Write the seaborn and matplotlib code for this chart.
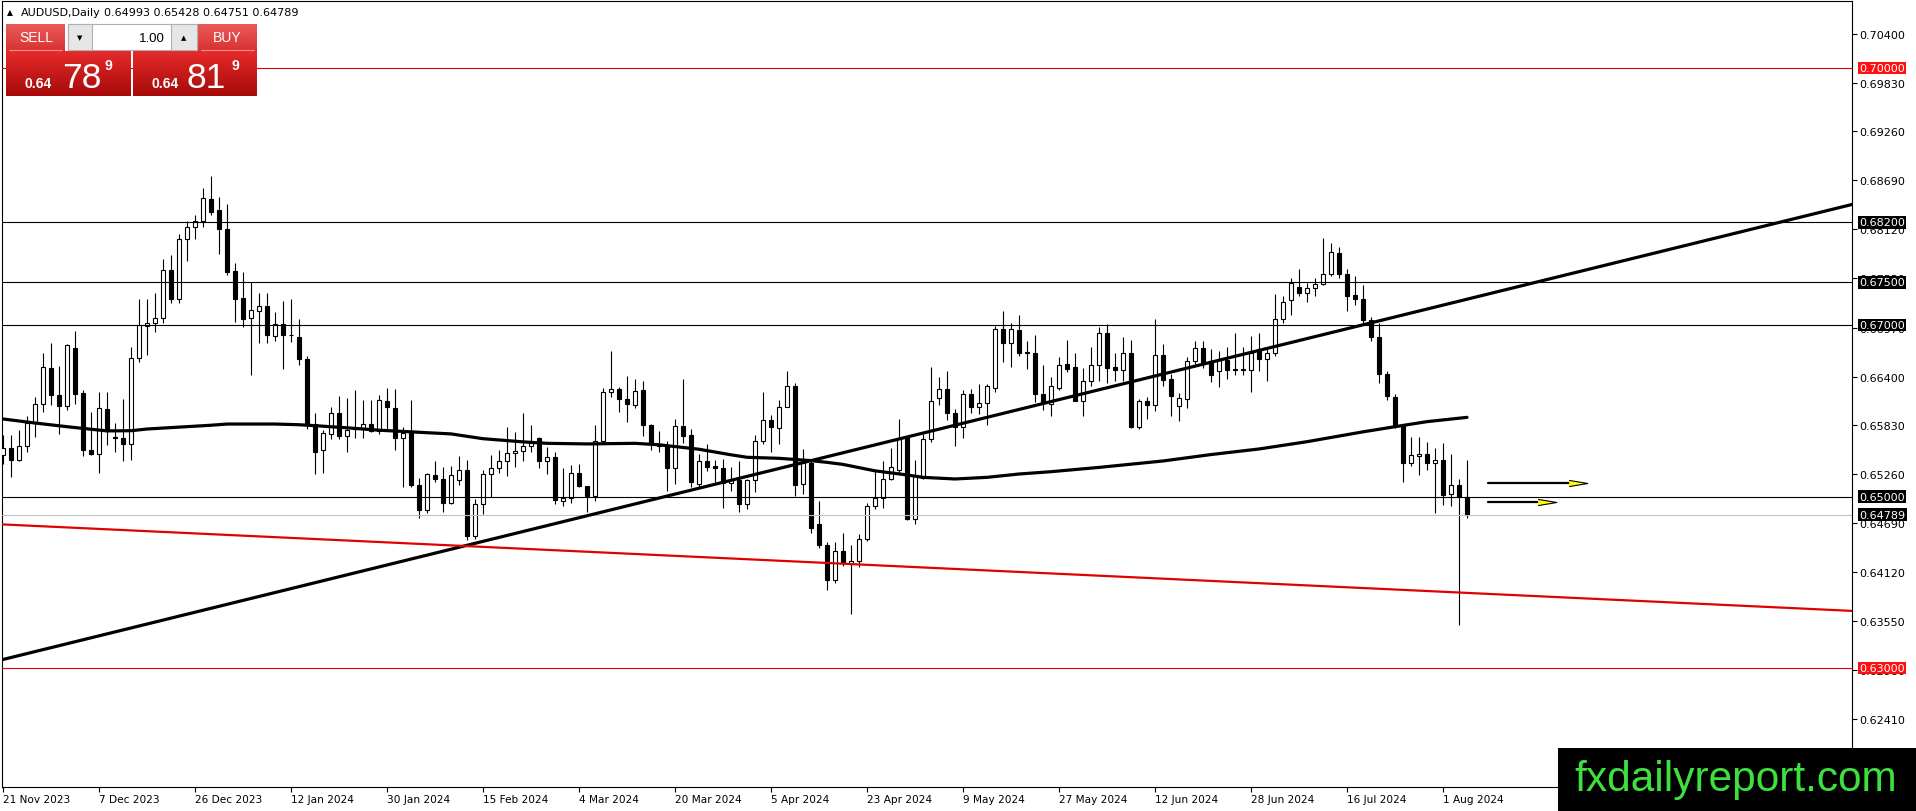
import numpy as np
import pandas as pd
import seaborn as sns
import matplotlib.pyplot as plt
from matplotlib.patches import Rectangle
from matplotlib.colors import LinearSegmentedColormap

# ---- data ----
opens = [
    0.6548, 0.6557, 0.6543, 0.6559, 0.6586, 0.6608, 0.6650, 0.6618, 0.6606, 0.6673,
    0.6621, 0.6554, 0.6550, 0.6602, 0.6570, 0.6568, 0.6561, 0.6662, 0.6699, 0.6702,
    0.6708, 0.6764, 0.6731, 0.6800, 0.6815, 0.6822, 0.6847, 0.6834, 0.6812, 0.6763,
    0.6732, 0.6708, 0.6717, 0.6722, 0.6687, 0.6701, 0.6689, 0.6686, 0.6661, 0.6585,
    0.6554, 0.6573, 0.6598, 0.6571, 0.6579, 0.6580, 0.6585, 0.6576, 0.6611, 0.6603,
    0.6568, 0.6576, 0.6513, 0.6484, 0.6525, 0.6521, 0.6493, 0.6519, 0.6531, 0.6454,
    0.6491, 0.6526, 0.6533, 0.6541, 0.6551, 0.6553, 0.6559, 0.6568, 0.6541, 0.6546,
    0.6495, 0.6498, 0.6527, 0.6512, 0.6501, 0.6565, 0.6622, 0.6626, 0.6614, 0.6607,
    0.6624, 0.6584, 0.6561, 0.6559, 0.6533, 0.6582, 0.6572, 0.6515, 0.6541, 0.6536,
    0.6533, 0.6516, 0.6519, 0.6491, 0.6519, 0.6565, 0.6589, 0.6580, 0.6605, 0.6629,
    0.6515, 0.6539, 0.6468, 0.6444, 0.6403, 0.6436, 0.6421, 0.6425, 0.6451, 0.6489,
    0.6498, 0.6521, 0.6531, 0.6570, 0.6474, 0.6522, 0.6567, 0.6615, 0.6626, 0.6598,
    0.6581, 0.6620, 0.6604, 0.6609, 0.6627, 0.6695, 0.6679, 0.6694, 0.6669, 0.6667,
    0.6620, 0.6608, 0.6627, 0.6655, 0.6651, 0.6611, 0.6635, 0.6653, 0.6691, 0.6651,
    0.6648, 0.6667, 0.6581, 0.6611, 0.6607, 0.6665, 0.6637, 0.6606, 0.6614, 0.6658,
    0.6673, 0.6657, 0.6646, 0.6659, 0.6649, 0.6648, 0.6648, 0.6672, 0.6661, 0.6668,
    0.6707, 0.6729, 0.6745, 0.6738, 0.6743, 0.6748, 0.6760, 0.6784, 0.6760, 0.6735,
    0.6731, 0.6706, 0.6686, 0.6643, 0.6616, 0.6583, 0.6539, 0.6547, 0.6550, 0.6539,
    0.6543, 0.6503, 0.6513, 0.64993,
]
highs = [
    0.6572, 0.6572, 0.6578, 0.6594, 0.6616, 0.6668, 0.6679, 0.6652, 0.6678, 0.6693,
    0.6624, 0.6599, 0.6622, 0.6622, 0.6586, 0.6614, 0.6675, 0.6731, 0.6731, 0.6738,
    0.6777, 0.6782, 0.6806, 0.6822, 0.6828, 0.6860, 0.6874, 0.6849, 0.6841, 0.6773,
    0.6762, 0.6750, 0.6737, 0.6737, 0.6715, 0.6728, 0.6731, 0.6707, 0.6664, 0.6598,
    0.6578, 0.6604, 0.6617, 0.6615, 0.6624, 0.6613, 0.6613, 0.6619, 0.6627, 0.6625,
    0.6581, 0.6613, 0.6522, 0.6527, 0.6542, 0.6534, 0.6536, 0.6547, 0.6543, 0.6497,
    0.6531, 0.6548, 0.6554, 0.6581, 0.6575, 0.6597, 0.6584, 0.6570, 0.6558, 0.6552,
    0.6533, 0.6537, 0.6538, 0.6512, 0.6583, 0.6627, 0.6670, 0.6628, 0.6641, 0.6637,
    0.6635, 0.6585, 0.6577, 0.6565, 0.6590, 0.6637, 0.6579, 0.6550, 0.6561, 0.6543,
    0.6544, 0.6535, 0.6541, 0.6521, 0.6572, 0.6622, 0.6595, 0.6613, 0.6647, 0.6633,
    0.6556, 0.6542, 0.6495, 0.6447, 0.6447, 0.6458, 0.6443, 0.6456, 0.6493, 0.6531,
    0.6541, 0.6557, 0.6590, 0.6571, 0.6543, 0.6573, 0.6651, 0.6640, 0.6647, 0.6602,
    0.6624, 0.6626, 0.6631, 0.6631, 0.6699, 0.6716, 0.6703, 0.6712, 0.6681, 0.6689,
    0.6653, 0.6639, 0.6663, 0.6683, 0.6668, 0.6650, 0.6675, 0.6698, 0.6701, 0.6667,
    0.6686, 0.6683, 0.6614, 0.6616, 0.6707, 0.6678, 0.6643, 0.6621, 0.6663, 0.6681,
    0.6681, 0.6672, 0.6670, 0.6675, 0.6691, 0.6675, 0.6687, 0.6691, 0.6672, 0.6736,
    0.6734, 0.6755, 0.6765, 0.6749, 0.6755, 0.6802, 0.6796, 0.6791, 0.6766, 0.6757,
    0.6747, 0.6709, 0.6703, 0.6647, 0.6620, 0.6584, 0.6570, 0.6570, 0.6564, 0.6557,
    0.6563, 0.6550, 0.6521, 0.65428,
]
lows = [
    0.6538, 0.6523, 0.6541, 0.6552, 0.6569, 0.6599, 0.6607, 0.6573, 0.6601, 0.6608,
    0.6547, 0.6549, 0.6528, 0.6560, 0.6552, 0.6542, 0.6543, 0.6657, 0.6665, 0.6692,
    0.6703, 0.6726, 0.6726, 0.6775, 0.6800, 0.6815, 0.6828, 0.6783, 0.6758, 0.6704,
    0.6698, 0.6642, 0.6679, 0.6679, 0.6681, 0.6649, 0.6680, 0.6653, 0.6579, 0.6526,
    0.6528, 0.6567, 0.6567, 0.6552, 0.6568, 0.6568, 0.6575, 0.6573, 0.6577, 0.6554,
    0.6511, 0.6511, 0.6475, 0.6481, 0.6517, 0.6482, 0.6491, 0.6514, 0.6449, 0.6450,
    0.6480, 0.6499, 0.6528, 0.6524, 0.6535, 0.6542, 0.6552, 0.6533, 0.6526, 0.6491,
    0.6489, 0.6493, 0.6511, 0.6482, 0.6495, 0.6561, 0.6616, 0.6599, 0.6587, 0.6603,
    0.6571, 0.6554, 0.6552, 0.6506, 0.6515, 0.6563, 0.6511, 0.6511, 0.6530, 0.6517,
    0.6487, 0.6506, 0.6482, 0.6485, 0.6505, 0.6561, 0.6552, 0.6561, 0.6605, 0.6501,
    0.6503, 0.6458, 0.6440, 0.6391, 0.6399, 0.6419, 0.6363, 0.6418, 0.6448, 0.6485,
    0.6487, 0.6519, 0.6528, 0.6473, 0.6468, 0.6520, 0.6564, 0.6607, 0.6589, 0.6559,
    0.6568, 0.6598, 0.6596, 0.6583, 0.6622, 0.6657, 0.6651, 0.6664, 0.6649, 0.6610,
    0.6601, 0.6594, 0.6624, 0.6645, 0.6611, 0.6594, 0.6629, 0.6635, 0.6633, 0.6635,
    0.6635, 0.6580, 0.6579, 0.6591, 0.6600, 0.6629, 0.6594, 0.6588, 0.6603, 0.6655,
    0.6650, 0.6634, 0.6628, 0.6637, 0.6642, 0.6642, 0.6622, 0.6646, 0.6635, 0.6664,
    0.6703, 0.6712, 0.6734, 0.6727, 0.6734, 0.6747, 0.6757, 0.6755, 0.6717, 0.6723,
    0.6703, 0.6682, 0.6633, 0.6613, 0.6580, 0.6517, 0.6536, 0.6525, 0.6531, 0.6481,
    0.6490, 0.6489, 0.6350, 0.64751,
]
closes = [
    0.6557, 0.6543, 0.6559, 0.6586, 0.6608, 0.6651, 0.6618, 0.6606, 0.6677, 0.6620,
    0.6554, 0.6550, 0.6603, 0.6577, 0.6568, 0.6561, 0.6662, 0.6700, 0.6703, 0.6708,
    0.6764, 0.6731, 0.6800, 0.6815, 0.6822, 0.6848, 0.6832, 0.6812, 0.6762, 0.6731,
    0.6707, 0.6718, 0.6722, 0.6688, 0.6701, 0.6689, 0.6688, 0.6661, 0.6584, 0.6552,
    0.6574, 0.6598, 0.6571, 0.6578, 0.6580, 0.6585, 0.6577, 0.6613, 0.6604, 0.6568,
    0.6574, 0.6513, 0.6484, 0.6526, 0.6521, 0.6493, 0.6525, 0.6531, 0.6454, 0.6491,
    0.6526, 0.6533, 0.6541, 0.6551, 0.6553, 0.6559, 0.6562, 0.6541, 0.6546, 0.6496,
    0.6498, 0.6527, 0.6512, 0.6501, 0.6565, 0.6622, 0.6626, 0.6614, 0.6608, 0.6623,
    0.6583, 0.6561, 0.6559, 0.6533, 0.6582, 0.6571, 0.6517, 0.6541, 0.6535, 0.6533,
    0.6516, 0.6519, 0.6491, 0.6519, 0.6565, 0.6589, 0.6581, 0.6605, 0.6629, 0.6513,
    0.6539, 0.6463, 0.6443, 0.6403, 0.6436, 0.6423, 0.6425, 0.6451, 0.6489, 0.6498,
    0.6521, 0.6534, 0.6567, 0.6474, 0.6524, 0.6567, 0.6611, 0.6626, 0.6598, 0.6581,
    0.6620, 0.6604, 0.6609, 0.6629, 0.6695, 0.6679, 0.6695, 0.6668, 0.6667, 0.6620,
    0.6609, 0.6629, 0.6654, 0.6649, 0.6611, 0.6635, 0.6654, 0.6691, 0.6650, 0.6648,
    0.6668, 0.6581, 0.6611, 0.6607, 0.6665, 0.6636, 0.6617, 0.6615, 0.6658, 0.6673,
    0.6657, 0.6642, 0.6659, 0.6648, 0.6648, 0.6649, 0.6667, 0.6661, 0.6668, 0.6707,
    0.6727, 0.6749, 0.6738, 0.6743, 0.6748, 0.6760, 0.6785, 0.6760, 0.6734, 0.6730,
    0.6706, 0.6686, 0.6643, 0.6617, 0.6582, 0.6539, 0.6548, 0.6550, 0.6539, 0.6543,
    0.6502, 0.6513, 0.6499, 0.64789,
]

# moving average (thick black curve), sampled at bar numbers
ma_bars = [-1, 0, 4, 8, 10, 13, 16, 18, 22, 26,
           28, 34, 37, 39, 43, 47, 51, 53, 56, 60,
           65, 68, 73, 79, 82, 87, 91, 93, 97, 101,
           103, 105, 109, 113, 115, 119, 123, 127, 131, 137,
           145, 151, 157, 163, 170, 175, 178, 183]
ma_values = [0.6591, 0.65905, 0.65858, 0.65815, 0.65795, 0.65766, 0.65768, 0.65788, 0.6581, 0.65832,
             0.65846, 0.65846, 0.65838, 0.65827, 0.65802, 0.65774, 0.65755, 0.65745, 0.65731, 0.65675,
             0.65638, 0.65621, 0.65614, 0.65621, 0.65604, 0.65552, 0.65487, 0.65458, 0.65446, 0.65419,
             0.65399, 0.65375, 0.65300, 0.65252, 0.65224, 0.65205, 0.65224, 0.65263, 0.6529, 0.6534,
             0.65415, 0.6549, 0.65555, 0.65640, 0.65755, 0.65830, 0.65874, 0.65924]

# trend lines (bar, price)
up_trend_bars = [-1, 232]
up_trend_prices = [0.63076, 0.68428]
down_trend_bars = [-1, 232]
down_trend_prices = [0.64679, 0.63662]

level_prices = [0.70, 0.682, 0.675, 0.67, 0.65, 0.63]
level_colors = ['#e00000', 'black', 'black', 'black', 'black', '#e00000']
bid_price = 0.64789

label_prices = [0.70, 0.682, 0.675, 0.67, 0.65, 0.64789, 0.63]
label_colors = ['#ff1010', 'black', 'black', 'black', 'black', 'black', '#ff1010']

# yellow arrows: start bar, tip bar, price
arrow_start = [185.6, 185.6]
arrow_tip = [198.0, 194.2]
arrow_price = [0.6516, 0.6494]

price_ticks = [0.62410, 0.62980, 0.63550, 0.64120, 0.64690, 0.65260, 0.65830, 0.66400,
               0.66970, 0.67550, 0.68120, 0.68690, 0.69260, 0.69830, 0.70400]
date_labels = ["21 Nov 2023", "7 Dec 2023", "26 Dec 2023", "12 Jan 2024", "30 Jan 2024",
               "15 Feb 2024", "4 Mar 2024", "20 Mar 2024", "5 Apr 2024", "23 Apr 2024",
               "9 May 2024", "27 May 2024", "12 Jun 2024", "28 Jun 2024", "16 Jul 2024",
               "1 Aug 2024"]
date_step = 12

header_name = "AUDUSD,Daily"
header_ohlc = "0.64993 0.65428 0.64751 0.64789"

# ---- figure ----
sns.set_style("white")
plt.rcParams['font.family'] = ['DejaVu Sans']

W, H = 1916, 812
fig = plt.figure(figsize=(W / 100, H / 100), dpi=100)
ax = fig.add_axes([2 / W, 24 / H, 1850 / W, 786 / H])

df = pd.DataFrame({'open': opens, 'high': highs, 'low': lows, 'close': closes})
df['bar'] = np.arange(len(df))
up = df['close'] >= df['open']
dn = ~up

ax.vlines(df['bar'], df['low'], df['high'], color='black', lw=0.8, zorder=2)
ax.bar(df.loc[up, 'bar'], (df['close'] - df['open'])[up], bottom=df.loc[up, 'open'],
       width=0.6, color='white', edgecolor='black', linewidth=0.8, zorder=3)
ax.bar(df.loc[dn, 'bar'], (df['open'] - df['close'])[dn], bottom=df.loc[dn, 'close'],
       width=0.6, color='black', edgecolor='black', linewidth=0.8, zorder=3)

# horizontal levels
for p, col in zip(level_prices, level_colors):
    ax.axhline(p, color=col, lw=0.8, zorder=4)
ax.axhline(bid_price, color='#c0c0c0', lw=0.8, zorder=4)

# moving average and trend lines
sns.lineplot(x=ma_bars, y=ma_values, ax=ax, color='black', lw=2.3, zorder=6)
sns.lineplot(x=up_trend_bars, y=up_trend_prices, ax=ax, color='black', lw=2.3, zorder=6)
sns.lineplot(x=down_trend_bars, y=down_trend_prices, ax=ax, color='#e00000', lw=1.6, zorder=6)

# arrows
tri = [(-1.0, 0.33), (1.0, 0.0), (-1.0, -0.33)]
for s, t, p in zip(arrow_start, arrow_tip, arrow_price):
    ax.plot([s, t - 1.2], [p, p], color='black', lw=1.6, zorder=7)
    ax.plot(t - 1.15, p, marker=tri, ms=13.5, mfc='#ffff00', mec='black', mew=0.8, zorder=8)

ax.set_xlim(-0.125, 231.125)
ax.set_ylim(0.61611, 0.70782)

for sp in ax.spines.values():
    sp.set_color('black')
    sp.set_linewidth(0.8)
    sp.set_visible(True)

ax.yaxis.tick_right()
ax.set_yticks(price_ticks)
ax.set_yticklabels([f"{v:.5f}" for v in price_ticks])
ax.set_xticks(np.arange(len(date_labels)) * date_step)
ax.set_xticklabels(date_labels)
ax.tick_params(axis='y', which='both', right=True, left=False, length=3.5, width=0.8,
               direction='out', colors='black', labelsize=8, pad=2)
ax.tick_params(axis='x', which='both', bottom=True, top=False, length=3.5, width=0.8,
               direction='out', colors='black', labelsize=7.6, pad=1.5)
for lab in ax.get_xticklabels():
    lab.set_horizontalalignment('left')
ax.set_xlabel('')
ax.set_ylabel('')
ax.grid(False)

# highlighted price labels on the right scale
for p, col in zip(label_prices, label_colors):
    ax.text(1.0039, p, f"{p:.5f}", transform=ax.get_yaxis_transform(), fontsize=8,
            color='white', va='center', ha='left', clip_on=False, zorder=20,
            bbox=dict(boxstyle='square,pad=0.12', fc=col, ec='none'))

# ---- overlay in pixel space: header, trade panel, watermark ----
ov = fig.add_axes([0, 0, 1, 1])
ov.set_xlim(0, W)
ov.set_ylim(H, 0)
ov.axis('off')
ov.patch.set_alpha(0)


def gradient_box(x0, y0, w, h, c_top, c_bot):
    cmap = LinearSegmentedColormap.from_list('g', [c_top, c_bot])
    ov.imshow(np.linspace(0, 1, 64)[:, None], cmap=cmap, extent=[x0, x0 + w, y0 + h, y0],
              aspect='auto', interpolation='bilinear', zorder=2)


ov.text(7, 13, '▲', fontsize=5.5, va='center', ha='left', color='black')
ov.text(21, 13, header_name, fontsize=8, va='center', ha='left', color='black')
ov.text(104, 13, header_ohlc, fontsize=8, va='center', ha='left', color='black')

# sell / buy small buttons
gradient_box(6, 25, 59, 27, '#ea5a5a', '#d83232')
gradient_box(198, 25, 59, 27, '#ea5a5a', '#d83232')
ov.plot([9, 62], [51, 51], color='#f29090', lw=0.8, zorder=3)
ov.plot([201, 254], [51, 51], color='#f29090', lw=0.8, zorder=3)
ov.text(36, 38.5, 'SELL', fontsize=10, color='white', ha='center', va='center',
        family='Liberation Sans', zorder=4)
ov.text(227, 38.5, 'BUY', fontsize=10, color='white', ha='center', va='center',
        family='Liberation Sans', zorder=4)

# lot spinner
ov.add_patch(Rectangle((68, 25), 129, 26, fc='white', ec='#b0b0b0', lw=0.8, zorder=3))
ov.add_patch(Rectangle((68, 25), 24, 26, fc='#e6e6e6', ec='#b0b0b0', lw=0.8, zorder=3))
ov.add_patch(Rectangle((171, 25), 26, 26, fc='#e6e6e6', ec='#b0b0b0', lw=0.8, zorder=3))
ov.text(80, 38.5, '▼', fontsize=5, ha='center', va='center', color='black', zorder=4)
ov.text(184, 38, '▲', fontsize=5, ha='center', va='center', color='black', zorder=4)
ov.text(165, 38.5, '1.00', fontsize=9.5, ha='right', va='center', color='black',
        family='Liberation Sans', zorder=4)

# big price boxes
gradient_box(6, 52, 125, 45, '#e62a2a', '#a60a0a')
gradient_box(133, 52, 124, 45, '#e62a2a', '#a60a0a')
for x_small, x_big, x_sup, big in [(25, 62, 105, '78'), (152, 187, 232, '81')]:
    ov.text(x_small, 88, '0.64', fontsize=10, fontweight='bold', color='white',
            ha='left', va='baseline', family='Liberation Sans', zorder=4)
    ov.text(x_big, 88, big, fontsize=25.5, color='white', ha='left', va='baseline',
            family='Liberation Sans', zorder=4)
    ov.text(x_sup, 70, '9', fontsize=10, fontweight='bold', color='white',
            ha='left', va='baseline', family='Liberation Sans', zorder=4)

# watermark
ov.add_patch(Rectangle((1558, 749), W - 1558, H - 749, fc='black', ec='none', zorder=5))
ov.text(1736, 791, 'fxdailyreport.com', fontsize=30.5, color='#3ee03e', ha='center',
        va='baseline', family='Liberation Sans', zorder=6)

ov.set_xlim(0, W)
ov.set_ylim(H, 0)

fig.savefig('out.png', dpi=100)
